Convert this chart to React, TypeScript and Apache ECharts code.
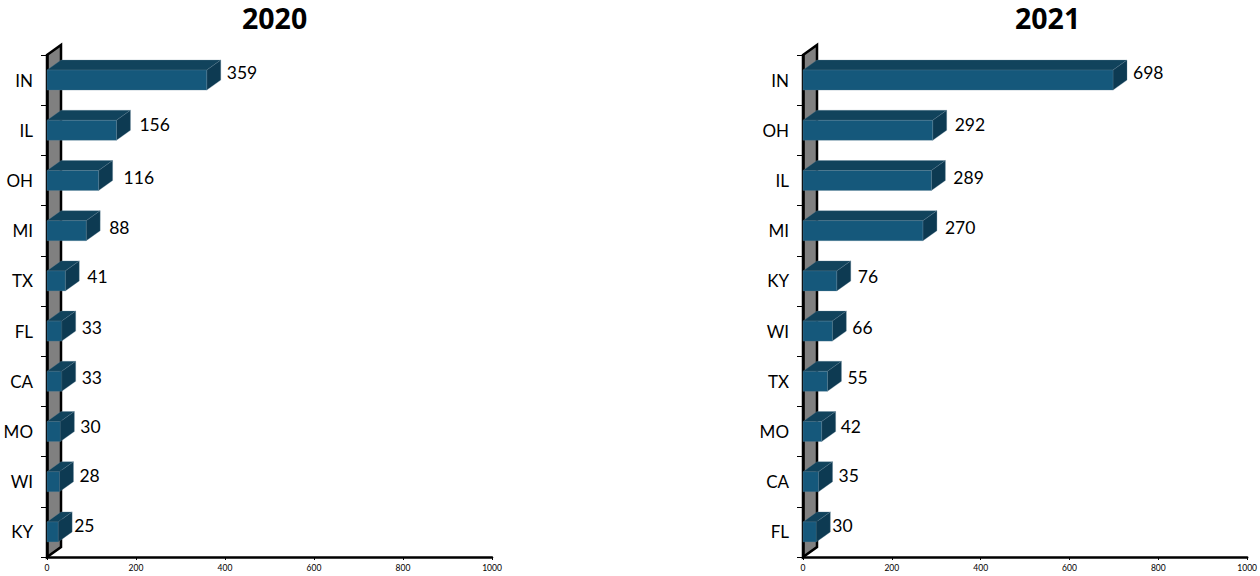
import React, { useEffect, useRef } from "react";
import * as echarts from "echarts";

const title2020 = "2020";
const title2021 = "2021";
const states2020 = ["IN", "IL", "OH", "MI", "TX", "FL", "CA", "MO", "WI", "KY"];
const values2020 = [359, 156, 116, 88, 41, 33, 33, 30, 28, 25];
const states2021 = ["IN", "OH", "IL", "MI", "KY", "WI", "TX", "MO", "CA", "FL"];
const values2021 = [698, 292, 289, 270, 76, 66, 55, 42, 35, 30];
const axisTicks = [0, 200, 400, 600, 800, 1000];

// label placement quirks of the reference (pixels past the bar's side face, pixels from band centre)
const labelGap2020 = [6, 9, 11, 9, 8, 6, 6, 6, 6, 2];
const labelGap2021 = [6, 8, 8, 8, 7, 6, 6, 5, 6, 2];
const labelRise = [8, 6, 3, 3, 4, 4, 4, 5, 6, 6];

const DX = 14;
const DY = 10;
const BAR_H = 20;
const FONT = "Lato, 'Noto Sans', sans-serif";
const EDGE = "rgba(93,127,146,0.6)";

function wallSeries(xAxisIndex: number, yAxisIndex: number) {
  return {
    type: "custom",
    xAxisIndex,
    yAxisIndex,
    z: 1,
    silent: true,
    clip: false,
    data: [[0, 0]],
    renderItem: (_p: any, api: any) => {
      const top = api.coord([0, 0]);
      const band = api.size([0, 1])[1];
      const x = top[0];
      const y0 = top[1] - band / 2;
      const y1 = y0 + band * 10;
      return {
        type: "polygon",
        shape: { points: [[x, y0], [x + DX, y0 - DY], [x + DX, y1 - DY], [x, y1]] },
        style: { fill: "#808080", stroke: "#000", lineWidth: 2.5 },
      };
    },
  };
}

function barSeries(values: number[], gaps: number[], xAxisIndex: number, yAxisIndex: number) {
  return {
    type: "custom",
    xAxisIndex,
    yAxisIndex,
    z: 3,
    clip: false,
    encode: { x: 0, y: 1 },
    data: values.map((v, i) => [v, i]),
    renderItem: (_p: any, api: any) => {
      const v = api.value(0);
      const i = api.value(1);
      const base = api.coord([0, i]);
      const end = api.coord([v, i]);
      const x0 = base[0];
      const x1 = end[0];
      const yt = base[1] - BAR_H / 2;
      const yb = base[1] + BAR_H / 2;
      return {
        type: "group",
        children: [
          {
            type: "polygon",
            shape: { points: [[x0, yt], [x0 + DX, yt - DY], [x1 + DX, yt - DY], [x1, yt]] },
            style: { fill: "#11435c", stroke: EDGE, lineWidth: 0.5 },
          },
          {
            type: "polygon",
            shape: { points: [[x1, yt], [x1 + DX, yt - DY], [x1 + DX, yb - DY], [x1, yb]] },
            style: { fill: "#0d3a52", stroke: EDGE, lineWidth: 0.5 },
          },
          {
            type: "rect",
            shape: { x: x0, y: yt, width: x1 - x0, height: BAR_H },
            style: { fill: "#15587b", stroke: EDGE, lineWidth: 0.5 },
          },
          {
            type: "text",
            x: x1 + DX + gaps[i],
            y: base[1] - labelRise[i],
            style: {
              text: String(v),
              fill: "#000",
              font: `400 17.5px ${FONT}`,
              textAlign: "left",
              textVerticalAlign: "middle",
            },
          },
        ],
      };
    },
  };
}

function xAxis(gridIndex: number) {
  return {
    type: "value",
    gridIndex,
    min: axisTicks[0],
    max: axisTicks[axisTicks.length - 1],
    interval: axisTicks[1] - axisTicks[0],
    z: 2,
    splitLine: { show: false },
    axisLine: { show: true, lineStyle: { color: "#000", width: 2.5 } },
    axisTick: { show: true, length: 3, lineStyle: { color: "#000", width: 1 } },
    axisLabel: {
      color: "#000",
      fontSize: 8.5,
      margin: 6,
      fontFamily: FONT,
      hideOverlap: false,
      formatter: (v: number) => String(v),
    },
  };
}

function yAxis(gridIndex: number, data: string[]) {
  return {
    type: "category",
    gridIndex,
    data,
    inverse: true,
    z: 2,
    axisLine: { show: true, onZero: false, lineStyle: { color: "#000", width: 2.5 } },
    axisTick: { show: true, length: 6, lineStyle: { color: "#000", width: 1 } },
    axisLabel: { color: "#000", fontSize: 17, margin: 14, fontFamily: FONT, fontWeight: 400 },
  };
}

const titleStyle = {
  fontFamily: "'Open Sans', sans-serif",
  fontWeight: 700,
  fontSize: 28.5,
  color: "#000",
};

export default function App() {
  const ref = useRef<HTMLDivElement>(null);
  useEffect(() => {
    const chart = echarts.init(ref.current!, undefined, { renderer: "svg" });
    chart.setOption({
      animation: false,
      backgroundColor: "#fff",
      title: [
        { text: title2020, left: 242, top: 3, padding: 0, textStyle: titleStyle },
        { text: title2021, left: 1015, top: 3, padding: 0, textStyle: titleStyle },
      ],
      grid: [
        { left: 47, width: 445, top: 55, height: 502 },
        { left: 803, width: 445, top: 55, height: 502 },
      ],
      xAxis: [xAxis(0), xAxis(1)],
      yAxis: [yAxis(0, states2020), yAxis(1, states2021)],
      series: [
        wallSeries(0, 0),
        wallSeries(1, 1),
        barSeries(values2020, labelGap2020, 0, 0),
        barSeries(values2021, labelGap2021, 1, 1),
      ],
    });
    return () => chart.dispose();
  }, []);
  return <div ref={ref} style={{ position: "absolute", left: 0, top: 0, width: 1260, height: 576 }} />;
}
